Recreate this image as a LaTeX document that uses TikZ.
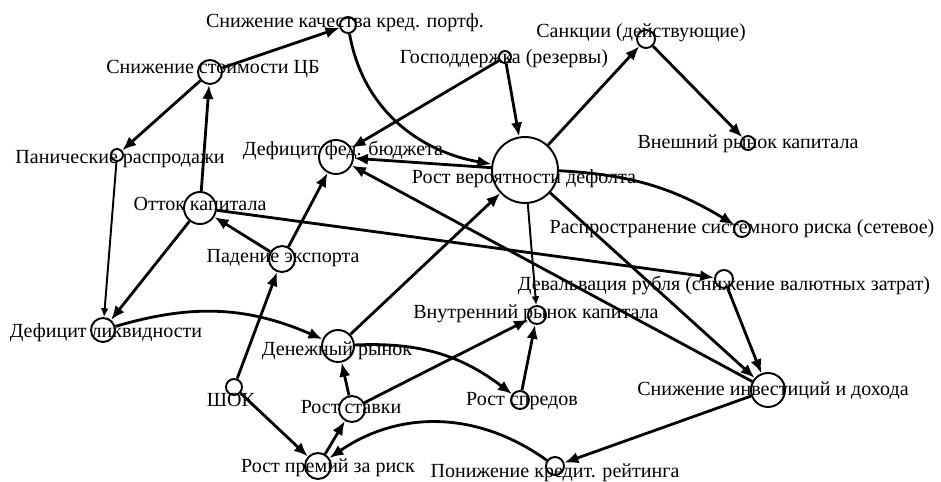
\documentclass[tikz,border=0pt]{standalone}
\usepackage{fontspec}
\setmainfont{Liberation Serif}
\usetikzlibrary{arrows.meta}

\begin{document}
\begin{tikzpicture}[x=0.02cm, y=0.02cm, line width=1.6pt,
  >={Latex[length=8pt,width=6.5pt]},
  vtx/.style={circle, draw, line width=1.1pt, inner sep=0pt, minimum size=#1*0.04cm},
  lbl/.style={anchor=base, inner sep=0pt, font=\fontsize{11.4}{13}\selectfont},
  weak/.style={line width=1.1pt, >={Latex[length=5pt,width=4.5pt]}}]
\useasboundingbox (0,0) rectangle (941,-481);

% circles
\node[vtx=8] (kach) at (348,-25) {};
\node[vtx=12] (cb) at (210,-72) {};
\node[vtx=6] (panic) at (117,-155) {};
\node[vtx=16] (ottok) at (200,-208) {};
\node[vtx=17] (budget) at (336,-157) {};
\node[vtx=6] (gos) at (505,-57) {};
\node[vtx=9] (sanc) at (646,-39) {};
\node[vtx=7] (ext) at (748,-143) {};
\node[vtx=33] (dflt) at (525,-170) {};
\node[vtx=8] (sys) at (742,-229) {};
\node[vtx=9] (deval) at (724,-279) {};
\node[vtx=9] (inner) at (537,-315) {};
\node[vtx=16] (money) at (338,-346) {};
\node[vtx=12] (liq) at (103,-330) {};
\node[vtx=13] (exp) at (282,-259) {};
\node[vtx=8] (shok) at (234,-387) {};
\node[vtx=13] (rate) at (352,-409) {};
\node[vtx=13] (prem) at (318,-466) {};
\node[vtx=9] (spread) at (520,-400) {};
\node[vtx=17] (invest) at (768,-390) {};
\node[vtx=9] (rating) at (555,-466) {};

% links
\draw[->] (cb) -- (kach);
\draw[->] (cb) -- (panic);
\draw[->] (ottok) -- (cb);
\draw[weak,->] (panic) -- (liq);
\draw[->] (ottok) -- (liq);
\draw[->] (exp) -- (ottok);
\draw[->] (exp) -- (budget);
\draw[->] (shok) -- (exp);
\draw[->] (shok) -- (prem);
\draw[->] (prem) -- (rate);
\draw[->] (rate) -- (money);
\draw[->] (rate) -- (inner);
\draw[->] (money) -- (dflt);
\draw[->] (money) to[bend left=20] (spread);
\draw[->] (liq) to[bend left=20] (money);
\draw[->] (spread) -- (inner);
\draw[weak,->] (dflt) -- (inner);
\draw[->] (gos) -- (dflt);
\draw[->] (gos) -- (budget);
\draw[->] (kach) to[out=-80, in=170] (dflt);
\draw[->] (dflt) -- (budget);
\draw[->] (invest) -- (budget);
\draw[->] (dflt) -- (sanc);
\draw[->] (sanc) -- (ext);
\draw[->] (dflt) to[bend left=14] (sys);
\draw[->] (ottok) -- (deval);
\draw[->] (deval) -- (invest);
\draw[->] (dflt) -- (invest);
\draw[->] (invest) -- (rating);
\draw[->] (rating) to[bend right=35] (prem);

% labels
\node[lbl] (kach-t) at (345,-27) {Снижение качества кред. портф.};
\node[lbl] (cb-t) at (213,-73) {Снижение стоимости ЦБ};
\node[lbl] (panic-t) at (120,-163) {Панические распродажи};
\node[lbl] (ottok-t) at (200,-210) {Отток капитала};
\node[lbl] (budget-t) at (343,-155) {Дефицит фед. бюджета};
\node[lbl] (gos-t) at (504,-63) {Господдержка (резервы)};
\node[lbl] (sanc-t) at (641,-37) {Санкции (действующие)};
\node[lbl] (ext-t) at (748,-148) {Внешний рынок капитала};
\node[lbl] (dflt-t) at (524,-183) {Рост вероятности дефолта};
\node[lbl] (sys-t) at (742,-233) {Распространение системного риска (сетевое)};
\node[lbl] (deval-t) at (724,-290) {Девальвация рубля (снижение валютных затрат)};
\node[lbl] (inner-t) at (536,-318) {Внутренний рынок капитала};
\node[lbl] (money-t) at (337,-355) {Денежный рынок};
\node[lbl] (liq-t) at (106,-337) {Дефицит ликвидности};
\node[lbl] (exp-t) at (283,-262) {Падение экспорта};
\node[lbl] (shok-t) at (231,-406) {ШОК};
\node[lbl] (rate-t) at (351,-413) {Рост ставки};
\node[lbl] (prem-t) at (328,-472) {Рост премий за риск};
\node[lbl] (spread-t) at (522,-405) {Рост спредов};
\node[lbl] (invest-t) at (773,-395) {Снижение инвестиций и дохода};
\node[lbl] (rating-t) at (555,-477) {Понижение кредит. рейтинга};
\end{tikzpicture}
\end{document}
